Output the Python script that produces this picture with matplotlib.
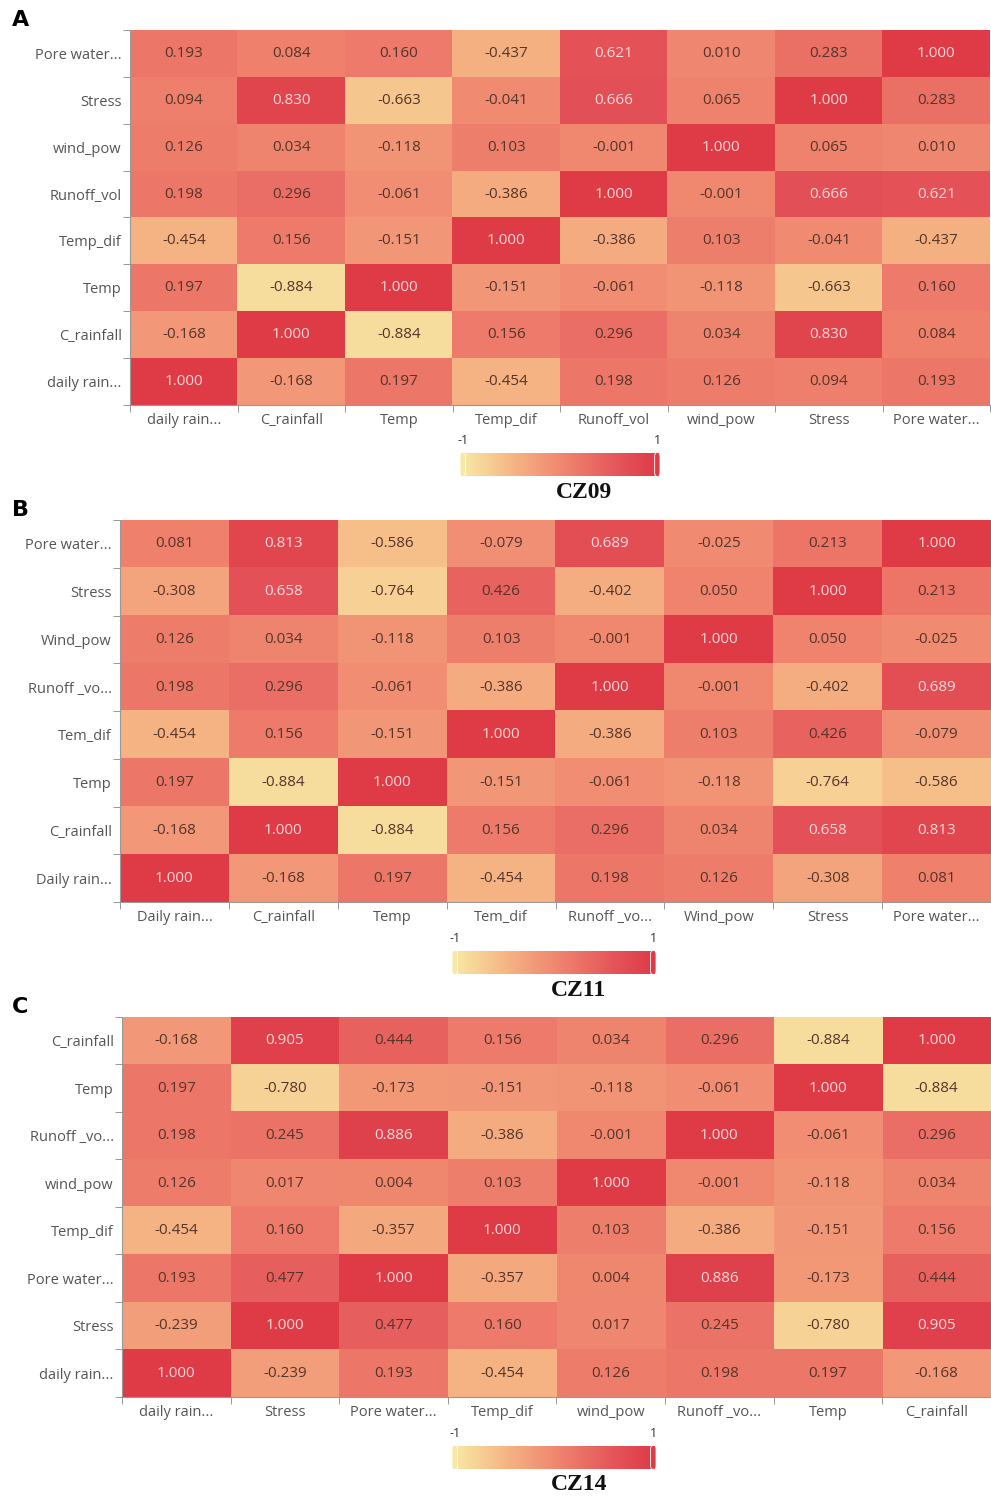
import numpy as np
import matplotlib
matplotlib.use("Agg")
import matplotlib.pyplot as plt
from matplotlib.colors import LinearSegmentedColormap
from matplotlib.patches import FancyBboxPatch

plt.rcParams['font.family'] = ['Open Sans', 'DejaVu Sans']

# panel A (CZ09)
rows_a = ["Pore water...", "Stress", "wind_pow", "Runoff_vol", "Temp_dif", "Temp", "C_rainfall", "daily rain..."]
cols_a = ["daily rain...", "C_rainfall", "Temp", "Temp_dif", "Runoff_vol", "wind_pow", "Stress", "Pore water..."]
vals_a = [
    [0.193, 0.084, 0.160, -0.437, 0.621, 0.010, 0.283, 1.000],
    [0.094, 0.830, -0.663, -0.041, 0.666, 0.065, 1.000, 0.283],
    [0.126, 0.034, -0.118, 0.103, -0.001, 1.000, 0.065, 0.010],
    [0.198, 0.296, -0.061, -0.386, 1.000, -0.001, 0.666, 0.621],
    [-0.454, 0.156, -0.151, 1.000, -0.386, 0.103, -0.041, -0.437],
    [0.197, -0.884, 1.000, -0.151, -0.061, -0.118, -0.663, 0.160],
    [-0.168, 1.000, -0.884, 0.156, 0.296, 0.034, 0.830, 0.084],
    [1.000, -0.168, 0.197, -0.454, 0.198, 0.126, 0.094, 0.193],
]

# panel B (CZ11)
rows_b = ["Pore water...", "Stress", "Wind_pow", "Runoff _vo...", "Tem_dif", "Temp", "C_rainfall", "Daily rain..."]
cols_b = ["Daily rain...", "C_rainfall", "Temp", "Tem_dif", "Runoff _vo...", "Wind_pow", "Stress", "Pore water..."]
vals_b = [
    [0.081, 0.813, -0.586, -0.079, 0.689, -0.025, 0.213, 1.000],
    [-0.308, 0.658, -0.764, 0.426, -0.402, 0.050, 1.000, 0.213],
    [0.126, 0.034, -0.118, 0.103, -0.001, 1.000, 0.050, -0.025],
    [0.198, 0.296, -0.061, -0.386, 1.000, -0.001, -0.402, 0.689],
    [-0.454, 0.156, -0.151, 1.000, -0.386, 0.103, 0.426, -0.079],
    [0.197, -0.884, 1.000, -0.151, -0.061, -0.118, -0.764, -0.586],
    [-0.168, 1.000, -0.884, 0.156, 0.296, 0.034, 0.658, 0.813],
    [1.000, -0.168, 0.197, -0.454, 0.198, 0.126, -0.308, 0.081],
]

# panel C (CZ14)
rows_c = ["C_rainfall", "Temp", "Runoff _vo...", "wind_pow", "Temp_dif", "Pore water...", "Stress", "daily rain..."]
cols_c = ["daily rain...", "Stress", "Pore water...", "Temp_dif", "wind_pow", "Runoff _vo...", "Temp", "C_rainfall"]
vals_c = [
    [-0.168, 0.905, 0.444, 0.156, 0.034, 0.296, -0.884, 1.000],
    [0.197, -0.780, -0.173, -0.151, -0.118, -0.061, 1.000, -0.884],
    [0.198, 0.245, 0.886, -0.386, -0.001, 1.000, -0.061, 0.296],
    [0.126, 0.017, 0.004, 0.103, 1.000, -0.001, -0.118, 0.034],
    [-0.454, 0.160, -0.357, 1.000, 0.103, -0.386, -0.151, 0.156],
    [0.193, 0.477, 1.000, -0.357, 0.004, 0.886, -0.173, 0.444],
    [-0.239, 1.000, 0.477, 0.160, 0.017, 0.245, -0.780, 0.905],
    [1.000, -0.239, 0.193, -0.454, 0.126, 0.198, 0.197, -0.168],
]

cmap = LinearSegmentedColormap.from_list(
    "yr", [(0, "#f8e8a4"), (0.25, "#f6b685"), (0.5, "#f08870"), (0.8, "#e5545a"), (1, "#de3b47")])

fig = plt.figure(figsize=(9.91, 15.01), dpi=100)


def heatmap(rect, rows, cols, vals, letter, title, cbar_rect):
    ax = fig.add_axes(rect)
    data = np.array(vals)
    ax.imshow(data, cmap=cmap, vmin=-1, vmax=1, aspect="auto")
    n = len(rows)
    for i in range(n):
        for j in range(len(cols)):
            v = data[i, j]
            c = "#fbd8d8" if v >= 0.5 else "#55352a"
            ax.text(j, i, f"{v:.3f}", ha="center", va="center", fontsize=11, color=c,
                    fontweight="medium")
    ax.set_xticks(range(len(cols)))
    ax.set_xticklabels(cols, fontsize=10.5, color="#555555")
    ax.set_yticks(range(n))
    ax.set_yticklabels(rows, fontsize=10.5, color="#555555")
    ax.set_xticks(np.arange(-0.5, len(cols)), minor=True)
    ax.set_yticks(np.arange(-0.5, n), minor=True)
    ax.tick_params(which="major", length=0, pad=6)
    ax.tick_params(which="minor", length=5, color="#888888")
    for s in ["top", "right"]:
        ax.spines[s].set_visible(False)
    for s in ["left", "bottom"]:
        ax.spines[s].set_color("#999999")
        ax.spines[s].set_linewidth(0.8)
    fig.text(0.012, rect[1] + rect[3] + 0.0135, letter, fontsize=16, fontweight="bold",
             family="DejaVu Sans", va="top")

    # colorbar
    cax = fig.add_axes(cbar_rect)
    cax.imshow(np.linspace(-1, 1, 256)[None, :], cmap=cmap, aspect="auto", extent=(-1, 1, 0, 1))
    cax.set_xlim(-1.03, 1.03)
    cax.set_ylim(-0.05, 1.05)
    cax.axis("off")
    for x0, col in [(-1.03, cmap(0.0)), (0.975, cmap(1.0))]:
        cax.add_patch(FancyBboxPatch((x0, -0.02), 0.055, 1.04, boxstyle="round,pad=0,rounding_size=0.02",
                                     fc=col, ec="white", lw=0.6, mutation_aspect=8, clip_on=False))
    cax.text(-1.0, 1.25, "-1", ha="center", va="bottom", fontsize=9, color="#333333")
    cax.text(1.0, 1.25, "1", ha="center", va="bottom", fontsize=9, color="#333333")
    cax.text(0.25, -0.25, title, ha="center", va="top", fontsize=17, fontweight="bold",
             family="Liberation Serif", color="#111111")


heatmap([0.1312, 0.7302, 0.8678, 0.2498], rows_a, cols_a, vals_a, "A", "CZ09",
        [0.4642, 0.6822, 0.2018, 0.0167])
heatmap([0.1211, 0.3990, 0.8789, 0.2545], rows_b, cols_b, vals_b, "B", "CZ11",
        [0.4561, 0.3504, 0.2059, 0.0167])
heatmap([0.1231, 0.0693, 0.8769, 0.2532], rows_c, cols_c, vals_c, "C", "CZ14",
        [0.4561, 0.0207, 0.2059, 0.0167])

fig.savefig("out.png", dpi=100)
